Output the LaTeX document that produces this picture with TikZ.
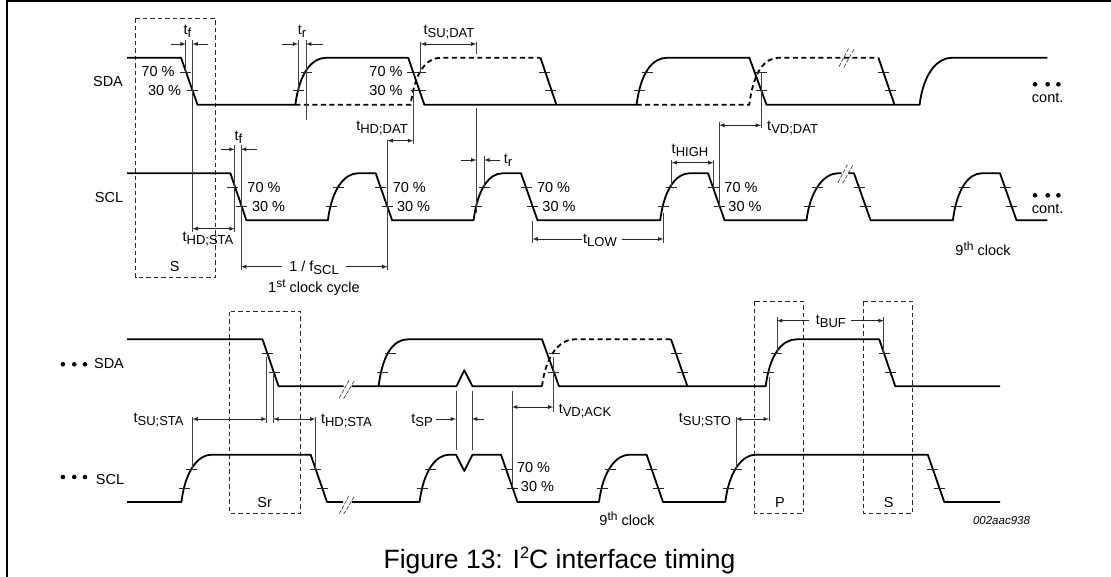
\documentclass[tikz,border=0pt]{standalone}
\usepackage{fontspec}
\setmainfont{Liberation Sans}
\newcommand{\tsub}[1]{t\raisebox{-3pt}{\fontsize{13}{13}\selectfont #1}}
\newcommand{\thsup}[1]{#1\raisebox{5pt}{\fontsize{12}{12}\selectfont th}}
\tikzset{
  sigline/.style={line width=1.8pt, line join=round},
  sigdash/.style={line width=1.8pt, dash pattern=on 5pt off 3.5pt},
  levelmark/.style={line width=0.7pt, black!85},
  dimline/.style={line width=0.8pt, black!75},
  dimarrow/.style={line width=0.85pt, black!85},
  groupbox/.style={line width=0.8pt, black!85, dash pattern=on 4.5pt off 3pt},
  breakmark/.style={line width=0.6pt, black!80, dash pattern=on 4pt off 1.5pt},
  lbl/.style={font=\fontsize{14.5}{15}\selectfont, inner sep=0pt}
}
\begin{document}
\begin{tikzpicture}[x=1pt, y=-1pt]
\useasboundingbox (0,0) rectangle (1111,577);
% frame
\draw[line width=2pt] (6.5,577) -- (6.5,1.5) -- (1111,1.5);
% group boxes
\draw[groupbox] (135.7,18.3) rectangle (215.7,277.7);
\draw[groupbox] (229.6,311.7) rectangle (300.7,513.3);
\draw[groupbox] (754.3,301.3) rectangle (803.7,513.3);
\draw[groupbox] (863,301.3) rectangle (912.4,513.3);
% upper SDA
\draw[sigline] (127,57.7) -- (181,57.7) -- (197.5,104.7) -- (295.4,104.7) .. controls +(4,-32) and +(-15,0) .. (326.8,57.7) -- (408.2,57.7) -- (424.3,104.7) -- (636.6,104.7) .. controls +(4,-32) and +(-15,0) .. (667.4,57.7) -- (749.3,57.7) -- (766.5,104.7) -- (919.6,104.7) .. controls +(4,-32) and +(-15,0) .. (952.5,57.7) -- (1047.3,57.7);
\draw[sigline] (878.4,57.7) -- (894.5,104.7);
\draw[sigline] (540.4,57.7) -- (556.4,104.7);
\draw[sigdash] (295.4,104.7) -- (410.7,104.7) .. controls +(4,-32) and +(-15,0) .. (441,57.7) -- (540.4,57.7);
\draw[sigdash] (636.6,104.7) -- (749.3,104.7) .. controls +(4,-32) and +(-15,0) .. (779,57.7) -- (878.4,57.7);
% upper SCL
\draw[sigline] (127,173.3) -- (230.4,173.3) -- (246.4,220.3) -- (327.9,220.3) .. controls +(4,-32) and +(-13,0) .. (357.9,173.3) -- (375.7,173.3) -- (392.1,220.3) -- (473.6,220.3) .. controls +(4,-32) and +(-13,0) .. (502.5,173.3) -- (521,173.3) -- (537.5,220.3) -- (660.2,220.3) .. controls +(4,-32) and +(-13,0) .. (689.5,173.3) -- (708,173.3) -- (724.6,220.3) -- (806.5,220.3) .. controls +(4,-32) and +(-13,0) .. (838,173.3) -- (841.6,173.3);
\draw[sigline] (848.5,173.3) -- (854,173.3) -- (870.6,220.3) -- (952.9,220.3) .. controls +(4,-32) and +(-13,0) .. (981.8,173.3) -- (1000,173.3) -- (1016.5,220.3) -- (1047.3,220.3);
% lower SDA
\draw[sigline] (127,339.3) -- (262.5,339.3) -- (278.6,386.3) -- (343.6,386.3);
\draw[sigline] (351.8,386.3) -- (378.6,386.3) .. controls +(4,-32) and +(-15,0) .. (408.2,339.3) -- (542,339.3) -- (559,386.3) -- (765.7,386.3) .. controls +(4,-32) and +(-15,0) .. (796.9,339.3) -- (879.2,339.3) -- (895.3,386.3) -- (1000,386.3);
\draw[sigline] (378.6,386.3) -- (456.4,386.3) -- (464.3,370.3) -- (472.5,386.3) -- (542,386.3);
\draw[sigdash] (542,386.3) .. controls +(4,-32) and +(-15,0) .. (575,339.3) -- (671,339.3);
\draw[sigline] (671,339.3) -- (687.4,386.3);
% lower SCL
\draw[sigline] (127,502) -- (181.4,502) .. controls +(4,-32) and +(-13,0) .. (211.4,454.7) -- (310.7,454.7) -- (327,502) -- (343,502);
\draw[sigline] (351.8,502) -- (419.6,502) .. controls +(4,-32) and +(-13,0) .. (449.3,454.7) -- (456,454.7) -- (464.3,471) -- (472.5,454.7) -- (501,454.7) -- (517.5,502) -- (599,502) .. controls +(4,-32) and +(-13,0) .. (629.4,454.7) -- (646.6,454.7) -- (663,502) -- (725.3,502) .. controls +(4,-32) and +(-13,0) .. (755.7,454.7) -- (927.8,454.7) -- (944.3,502) -- (1000,502);
% level marks, upper SDA
\draw[levelmark] (180,72) -- (191,72) (187,90.5) -- (198,90.5);
\draw[levelmark] (293,90.5) -- (304,90.5) (300.5,72) -- (311.5,72);
\draw[levelmark] (407,72) -- (418,72) (414.5,90.5) -- (425.5,90.5);
\draw[levelmark] (415,72) -- (426,72) (410.5,90.5) -- (421.5,90.5);
\draw[levelmark] (539,72) -- (550,72) (544.5,90.5) -- (555.5,90.5);
\draw[levelmark] (634,90.5) -- (645,90.5) (641.5,72) -- (652.5,72);
\draw[levelmark] (755.5,72) -- (766.5,72) (755.5,90.5) -- (766.5,90.5);
\draw[levelmark] (878,72) -- (889,72) (884.5,90.5) -- (895.5,90.5);
% level marks, upper SCL
\draw[levelmark] (226.5,187.5) -- (237.5,187.5) (236,206.5) -- (247,206.5);
\draw[levelmark] (325.5,206.5) -- (336.5,206.5) (333,187.5) -- (344,187.5);
\draw[levelmark] (375,187.5) -- (386,187.5) (381.5,206.5) -- (392.5,206.5);
\draw[levelmark] (471,206.5) -- (482,206.5) (479,187.5) -- (490,187.5);
\draw[levelmark] (520.5,187.5) -- (531.5,187.5) (526.5,206.5) -- (537.5,206.5);
\draw[levelmark] (657.5,206.5) -- (668.5,206.5) (665.5,187.5) -- (676.5,187.5);
\draw[levelmark] (707.5,187.5) -- (718.5,187.5) (713.5,206.5) -- (724.5,206.5);
\draw[levelmark] (804,206.5) -- (815,206.5) (812,187.5) -- (823,187.5);
\draw[levelmark] (853.5,187.5) -- (864.5,187.5) (859.5,206.5) -- (870.5,206.5);
\draw[levelmark] (950.5,206.5) -- (961.5,206.5) (958.5,187.5) -- (969.5,187.5);
\draw[levelmark] (999.5,187.5) -- (1010.5,187.5) (1005.5,206.5) -- (1016.5,206.5);
% level marks, lower SDA
\draw[levelmark] (261.5,353.3) -- (272.5,353.3) (268.5,372.3) -- (279.5,372.3);
\draw[levelmark] (376.5,372.3) -- (387.5,372.3) (384.5,353.3) -- (395.5,353.3);
\draw[levelmark] (548.5,353.3) -- (559.5,353.3) (547.5,372.3) -- (558.5,372.3);
\draw[levelmark] (670.5,353.3) -- (681.5,353.3) (676.5,372.3) -- (687.5,372.3);
\draw[levelmark] (763,372.3) -- (774,372.3) (770.5,353.3) -- (781.5,353.3);
\draw[levelmark] (878.5,353.3) -- (889.5,353.3) (884.5,372.3) -- (895.5,372.3);
% level marks, lower SCL
\draw[levelmark] (179,488) -- (190,488) (186,469) -- (197,469);
\draw[levelmark] (310,469) -- (321,469) (316.5,488) -- (327.5,488);
\draw[levelmark] (417,488) -- (428,488) (425,469) -- (436,469);
\draw[levelmark] (500.5,469) -- (511.5,469) (506.5,488) -- (517.5,488);
\draw[levelmark] (596.5,488) -- (607.5,488) (604.5,469) -- (615.5,469);
\draw[levelmark] (646,469) -- (657,469) (652.5,488) -- (663.5,488);
\draw[levelmark] (722.5,488) -- (733.5,488) (730.5,469) -- (741.5,469);
\draw[levelmark] (927,469) -- (938,469) (933.5,488) -- (944.5,488);
% break marks
\draw[breakmark] (839,66.7) -- (848.7,48.3) (844,67.3) -- (854,49);
\draw[breakmark] (838,182.7) -- (847.7,164) (842.7,183.3) -- (853.4,164);
\draw[breakmark] (339.3,398) -- (349.3,379.7) (343.6,398.7) -- (354.6,380.3);
\draw[breakmark] (339.3,513.7) -- (349.3,495.3) (343.6,514.3) -- (354.6,496);
% extension lines, top
\draw[dimline] (185.7,40) -- (185.7,72);
\draw[dimline] (192.5,40) -- (192.5,232);
\draw[dimline] (298.2,40) -- (298.2,90);
\draw[dimline] (306,40) -- (306,120);
\draw[dimline] (420.7,41.7) -- (420.7,73);
\draw[dimline] (476.4,41.7) -- (476.4,54.3);
\draw[dimline] (476.4,108) -- (476.4,213);
\draw[dimline] (413.2,90) -- (413.2,144.3);
\draw[dimline] (387.5,140) -- (387.5,270);
\draw[dimline] (234.6,145) -- (234.6,232);
\draw[dimline] (241,145) -- (241,270);
\draw[dimline] (484.3,155.7) -- (484.3,187.5);
\draw[dimline] (532.5,221) -- (532.5,243);
\draw[dimline] (663.4,213) -- (663.4,243);
\draw[dimline] (671.6,160) -- (671.6,186.7);
\draw[dimline] (713.5,160) -- (713.5,187);
\draw[dimline] (719.2,121.7) -- (719.2,207);
\draw[dimline] (761,72) -- (761,128);
% extension lines, bottom
\draw[dimline] (192.5,417) -- (192.5,470);
\draw[dimline] (266.8,357) -- (266.8,423);
\draw[dimline] (273.2,372.3) -- (273.2,423);
\draw[dimline] (315.4,417) -- (315.4,469.7);
\draw[dimline] (456,391) -- (456,450);
\draw[dimline] (472,391) -- (472,450);
\draw[dimline] (512.1,391) -- (512.1,487);
\draw[dimline] (553.3,357) -- (553.3,412);
\draw[dimline] (777,317) -- (777,353.7);
\draw[dimline] (883.8,317) -- (883.8,353.7);
\draw[dimline] (736,417) -- (736,469.7);
\draw[dimline] (769,377) -- (769,421);
% dimension arrows, top
\draw[dimarrow, -latex] (170.7,44) -- (185.7,44);
\draw[dimarrow, -latex] (208,44) -- (192.5,44);
\draw[dimarrow, -latex] (282,44) -- (298.2,44);
\draw[dimarrow, -latex] (322.5,44) -- (306,44);
\draw[dimarrow, latex-latex] (420.7,44) -- (476.4,44);
\draw[dimarrow, latex-latex] (387.5,140.7) -- (413.2,140.7);
\draw[dimarrow, -latex] (221.4,149.3) -- (234.6,149.3);
\draw[dimarrow, -latex] (257,149.3) -- (241,149.3);
\draw[dimarrow, latex-latex] (192.5,228.7) -- (234.6,228.7);
\draw[dimarrow, -latex] (282,266.7) -- (241,266.7);
\draw[dimarrow, -latex] (345.7,266.7) -- (387.5,266.7);
\draw[dimarrow, -latex] (460.7,160) -- (476.4,160);
\draw[dimarrow, -latex] (500,160) -- (484.3,160);
\draw[dimarrow, -latex] (581.5,239) -- (532.5,239);
\draw[dimarrow, -latex] (621.6,239) -- (663.4,239);
\draw[dimarrow, latex-latex] (671.6,162.7) -- (713.5,162.7);
\draw[dimarrow, latex-latex] (719.2,125.3) -- (761,125.3);
% dimension arrows, bottom
\draw[dimarrow, latex-latex] (192.5,419) -- (266.8,419);
\draw[dimarrow, latex-latex] (273.2,419) -- (315.4,419);
\draw[dimarrow, -latex] (436.4,419) -- (456,419);
\draw[dimarrow, -latex] (484,419) -- (472,419);
\draw[dimarrow, latex-latex] (512.1,407) -- (553.3,407);
\draw[dimarrow, -latex] (809.4,320.7) -- (777,320.7);
\draw[dimarrow, -latex] (851,320.7) -- (883.8,320.7);
\draw[dimarrow, latex-latex] (736,419) -- (769,419);
% dots
\fill[black] (1035,84.3) circle (2.3pt);
\fill[black] (1047.7,84.3) circle (2.3pt);
\fill[black] (1058.4,84.3) circle (2.3pt);
\fill[black] (1035,195.3) circle (2.3pt);
\fill[black] (1047.7,195.3) circle (2.3pt);
\fill[black] (1058.4,195.3) circle (2.3pt);
\fill[black] (62.9,364.3) circle (2.3pt);
\fill[black] (74.3,364.3) circle (2.3pt);
\fill[black] (85,364.3) circle (2.3pt);
\fill[black] (62.9,477) circle (2.3pt);
\fill[black] (74.3,477) circle (2.3pt);
\fill[black] (85,477) circle (2.3pt);
% labels, upper
\draw (108,82) node[lbl] (sdaTop) {SDA};
\draw (109,197.7) node[lbl] (sclTop) {SCL};
\draw (158,71.7) node[lbl] (sdaSeventyA) {70 \%};
\draw (164.6,90.7) node[lbl] (sdaThirtyA) {30 \%};
\draw (386,71.7) node[lbl] (sdaSeventyB) {70 \%};
\draw (386,90.7) node[lbl] (sdaThirtyB) {30 \%};
\draw (264,187.3) node[lbl] (sclSeventyA) {70 \%};
\draw (268.6,206.7) node[lbl] (sclThirtyA) {30 \%};
\draw (409.3,187.3) node[lbl] (sclSeventyB) {70 \%};
\draw (413.6,206.7) node[lbl] (sclThirtyB) {30 \%};
\draw (553.6,187.3) node[lbl] (sclSeventyC) {70 \%};
\draw (559,206.7) node[lbl] (sclThirtyC) {30 \%};
\draw (741,187.3) node[lbl] (sclSeventyD) {70 \%};
\draw (745,206.7) node[lbl] (sclThirtyD) {30 \%};
\draw (187.5,31) node[lbl] (tfA) {\tsub{f}};
\draw (302,31) node[lbl] (trA) {\tsub{r}};
\draw (449,32) node[lbl] (tsuDat) {\tsub{SU;DAT}};
\draw (382,128) node[lbl] (thdDat) {\tsub{HD;DAT}};
\draw (238.5,137.5) node[lbl] (tfB) {\tsub{f}};
\draw (208,239.5) node[lbl] (thdSta) {\tsub{HD;STA}};
\draw (174.6,266.7) node[lbl] (startA) {S};
\draw (314,268) node[lbl] (period) {1 / f\raisebox{-3pt}{\fontsize{13}{13}\selectfont SCL}};
\draw (314,288) node[lbl] (firstCycle) {1\raisebox{5pt}{\fontsize{12}{12}\selectfont st} clock cycle};
\draw (508,160) node[lbl] (trB) {\tsub{r}};
\draw (600,240) node[lbl] (tlow) {\tsub{LOW}};
\draw (690,150.5) node[lbl] (thigh) {\tsub{HIGH}};
\draw (792.6,128.5) node[lbl] (tvdDat) {\tsub{VD;DAT}};
\draw (1047.7,98) node[lbl] (contA) {cont.};
\draw (1047.7,209) node[lbl] (contB) {cont.};
\draw (983,248.3) node[lbl] (ninthA) {\thsup{9} clock};
% labels, lower
\draw (109,364) node[lbl] (sdaLow) {SDA};
\draw (110,479.3) node[lbl] (sclLow) {SCL};
\draw (158.6,420.5) node[lbl] (tsuSta) {\tsub{SU;STA}};
\draw (346.4,421) node[lbl] (thdStaB) {\tsub{HD;STA}};
\draw (422,420) node[lbl] (tsp) {\tsub{SP}};
\draw (585,411) node[lbl] (tvdAck) {\tsub{VD;ACK}};
\draw (705,420.5) node[lbl] (tsuSto) {\tsub{SU;STO}};
\draw (830.9,321.5) node[lbl] (tbuf) {\tsub{BUF}};
\draw (264.6,503) node[lbl] (restart) {Sr};
\draw (780,503) node[lbl] (stopP) {P};
\draw (888.8,503) node[lbl] (startB) {S};
\draw (533.6,468) node[lbl] (ackSeventy) {70 \%};
\draw (537.5,487) node[lbl] (ackThirty) {30 \%};
\draw (627,518.7) node[lbl] (ninthB) {\thsup{9} clock};
\draw (1001.5,521) node[font=\fontsize{11.5}{12}\selectfont\itshape, inner sep=0pt] (partNo) {002aac938};
\draw (559.5,560) node[font=\fontsize{26.5}{27}\selectfont, inner sep=0pt] (caption) {Figure 13: I\raisebox{10pt}{\fontsize{16.5}{17}\selectfont 2}C interface timing};
\end{tikzpicture}
\end{document}
